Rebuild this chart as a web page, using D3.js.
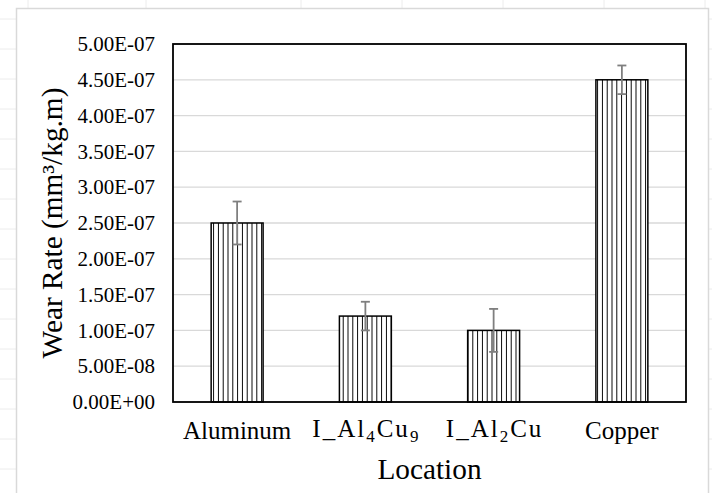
<!DOCTYPE html>
<html>
<head>
<meta charset="utf-8">
<script src="https://cdn.jsdelivr.net/npm/d3@7"></script>
<style>
	body { margin: 0; background: #fff; }
	svg { display: block; }
</style>
</head>
<body>
<div id="chart"></div>
<script>
// data
const categories = ['Aluminum', 'I_Al4Cu9', 'I_Al2Cu', 'Copper'];
const wearRate = [2.5e-7, 1.2e-7, 1.0e-7, 4.5e-7];
const wearError = [0.3e-7, 0.2e-7, 0.3e-7, 0.2e-7];
const yTicks = [0, 0.5e-7, 1e-7, 1.5e-7, 2e-7, 2.5e-7, 3e-7, 3.5e-7, 4e-7, 4.5e-7, 5e-7];

// label pieces: [text, isSubscript]
const labelParts = {
	'Aluminum': [['Aluminum', false]],
	'I_Al4Cu9': [['I_Al', false], ['4', true], ['Cu', false], ['9', true]],
	'I_Al2Cu': [['I_Al', false], ['2', true], ['Cu', false]],
	'Copper': [['Copper', false]]
};

const FONT = '"Liberation Serif"';
const width = 712,
	height = 493,
	plot = {left: 173, top: 44, right: 686, bottom: 402};

const svg = d3.select('#chart').append('svg').attr('width', width).attr('height', height);

//spreadsheet cells peeking round the chart
const cellCols = [28, 146, 301, 402, 503, 604, 705];
svg.append('g').selectAll('line').data(cellCols).enter().append('line')
	.attr('x1', d => d).attr('x2', d => d).attr('y1', 0).attr('y2', height)
	.attr('stroke', '#ececec');
svg.append('g').selectAll('line').data(d3.range(19, height, 30)).enter().append('line')
	.attr('x1', 0).attr('x2', width).attr('y1', d => d).attr('y2', d => d)
	.attr('stroke', '#ececec');

//chart frame
svg.append('rect')
	.attr('x', 16.5).attr('y', 8.5)
	.attr('width', 692).attr('height', 520)
	.attr('fill', '#fff')
	.attr('stroke', '#d9d9d9')
	.attr('stroke-width', 1.5);

//hatch
svg.append('defs').append('pattern')
	.attr('id', 'vhatch')
	.attr('patternUnits', 'userSpaceOnUse')
	.attr('width', 4.8).attr('height', 10)
	.call(p => p.append('rect').attr('width', 4.8).attr('height', 10).attr('fill', '#fff'))
	.call(p => p.append('line').attr('x1', 2.4).attr('x2', 2.4).attr('y1', 0).attr('y2', 10)
		.attr('stroke', '#000').attr('stroke-width', 1));

const x = d3.scaleBand()
	.domain(categories)
	.range([plot.left, plot.right])
	.paddingInner(0.595)
	.paddingOuter(0.2975);

const y = d3.scaleLinear()
	.domain([0, 5e-7])
	.range([plot.bottom, plot.top]);

const fmtE = v => {
	if (v === 0) return '0.00E+00';
	const [m, e] = v.toExponential(2).toUpperCase().split('E');
	const n = +e;
	return m + 'E' + (n < 0 ? '-' : '+') + String(Math.abs(n)).padStart(2, '0');
};

//gridlines
svg.append('g').selectAll('line').data(yTicks).enter().append('line')
	.attr('x1', plot.left).attr('x2', plot.right)
	.attr('y1', d => y(d)).attr('y2', d => y(d))
	.attr('stroke', '#d9d9d9').attr('stroke-width', 1.3);

//y axis labels
svg.append('g')
	.attr('transform', `translate(${plot.left},0)`)
	.call(d3.axisLeft(y).tickValues(yTicks).tickFormat(fmtE).tickSize(0).tickPadding(18))
	.call(g => g.select('.domain').remove())
	.selectAll('text')
	.style('font-family', FONT)
	.style('font-size', '21px')
	.attr('fill', '#000');

//bars
const bars = svg.append('g');
bars.selectAll('rect').data(categories).enter().append('rect')
	.attr('x', d => x(d))
	.attr('y', (d, i) => y(wearRate[i]))
	.attr('width', x.bandwidth())
	.attr('height', (d, i) => y(0) - y(wearRate[i]))
	.attr('fill', 'url(#vhatch)')
	.attr('stroke', '#000')
	.attr('stroke-width', 1.5);

//error bars
const err = svg.append('g').attr('stroke', '#7f7f7f').attr('stroke-width', 1.8);
categories.forEach((c, i) => {
	const cx = x(c) + x.bandwidth() / 2,
		hi = y(wearRate[i] + wearError[i]),
		lo = y(wearRate[i] - wearError[i]);
	err.append('line').attr('x1', cx).attr('x2', cx).attr('y1', hi).attr('y2', lo);
	err.append('line').attr('x1', cx - 4.5).attr('x2', cx + 4.5).attr('y1', hi).attr('y2', hi);
	err.append('line').attr('x1', cx - 4.5).attr('x2', cx + 4.5).attr('y1', lo).attr('y2', lo);
});

//plot border
svg.append('rect')
	.attr('x', plot.left).attr('y', plot.top)
	.attr('width', plot.right - plot.left).attr('height', plot.bottom - plot.top)
	.attr('fill', 'none')
	.attr('stroke', '#000')
	.attr('stroke-width', 1.8);

//x labels
const xl = svg.append('g').attr('text-anchor', 'middle').attr('fill', '#000');
categories.forEach(c => {
	const plain = labelParts[c].length === 1;
	const t = xl.append('text')
		.attr('x', x(c) + x.bandwidth() / 2 + (plain ? 0 : 1))
		.attr('y', plain ? 439 : 437)
		.style('font-family', FONT)
		.style('font-size', '25px')
		.style('letter-spacing', plain ? null : '2px');
	labelParts[c].forEach(([s, sub], j) => {
		t.append('tspan')
			.style('font-size', sub ? '17px' : null)
			.attr('dy', sub ? 5 : (j > 0 ? -5 : 0))
			.text(s);
	});
});

//axis titles
svg.append('text')
	.attr('x', (plot.left + plot.right) / 2)
	.attr('y', 479)
	.attr('text-anchor', 'middle')
	.style('font-family', FONT)
	.style('font-size', '29.3px')
	.text('Location');

svg.append('text')
	.attr('transform', `translate(62,${(plot.top + plot.bottom) / 2}) rotate(-90)`)
	.attr('text-anchor', 'middle')
	.style('font-family', FONT)
	.style('font-size', '29.3px')
	.text('Wear Rate (mm³/kg.m)');
</script>
</body>
</html>
